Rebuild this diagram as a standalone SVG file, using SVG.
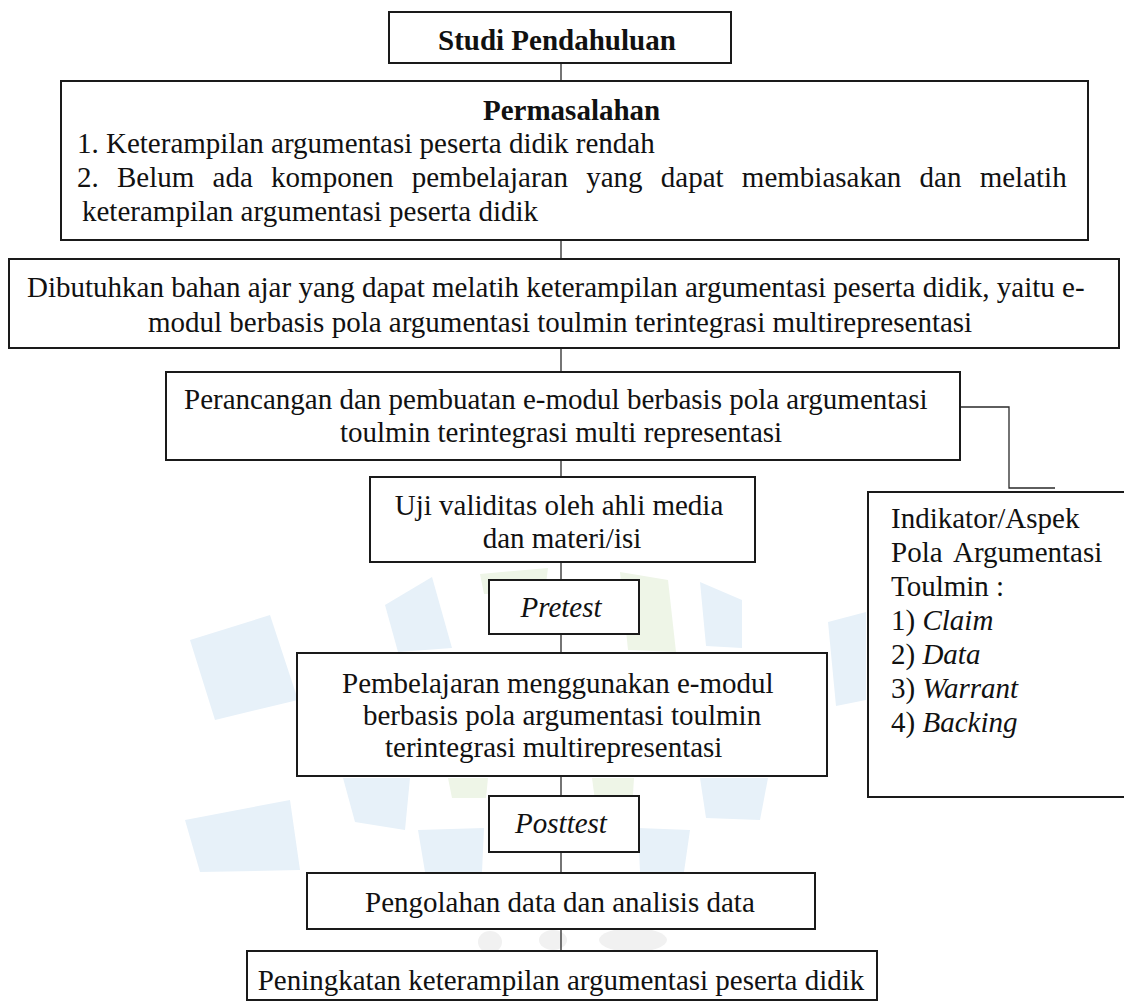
<svg xmlns="http://www.w3.org/2000/svg" width="1124" height="1003" viewBox="0 0 1124 1003">
<style>
.box{fill:#ffffff;stroke:#1a1a1a;stroke-width:2}
.t{font-family:"Liberation Serif","Times New Roman",serif;font-size:29px;fill:#111111}
.b{font-weight:bold}
.i{font-style:italic}
.c{text-anchor:middle}
.conn{fill:none;stroke:#2a2a2a;stroke-width:1.3}
.wb{fill:#e7f1f9}
.wg{fill:#eef5e7}
.wy{fill:#f1f1f1}
</style>
<rect width="1124" height="1003" fill="#ffffff"/>
<g id="watermark">
<polygon class="wb" points="385,605 432,577 452,648 398,652"/>
<polygon class="wg" points="480,574 548,568 545,592 484,594"/>
<polygon class="wg" points="620,572 668,580 676,652 628,650"/>
<polygon class="wb" points="700,582 742,600 742,648 706,646"/>
<polygon class="wb" points="190,640 270,615 298,700 215,720"/>
<polygon class="wb" points="828,622 866,612 866,700 836,706"/>
<polygon class="wb" points="343,778 410,778 405,830 355,822"/>
<polygon class="wg" points="448,778 488,778 486,798 452,798"/>
<polygon class="wg" points="592,778 634,778 632,810 596,808"/>
<polygon class="wb" points="700,778 768,778 760,820 706,818"/>
<polygon class="wb" points="418,830 484,828 482,872 425,872"/>
<polygon class="wb" points="638,828 690,830 684,872 640,872"/>
<polygon class="wb" points="185,820 290,800 300,870 200,872"/>
<ellipse class="wy" cx="490" cy="942" rx="12" ry="11"/>
<ellipse class="wy" cx="553" cy="940" rx="14" ry="10"/>
<ellipse class="wy" cx="633" cy="940" rx="34" ry="12"/>
</g>
<g id="connectors">
<line class="conn" x1="561" y1="63" x2="561" y2="82"/>
<line class="conn" x1="561" y1="240" x2="561" y2="260"/>
<line class="conn" x1="561" y1="348" x2="561" y2="373"/>
<line class="conn" x1="561" y1="460" x2="561" y2="478"/>
<line class="conn" x1="561" y1="562" x2="561" y2="581"/>
<line class="conn" x1="561" y1="634" x2="561" y2="654"/>
<line class="conn" x1="561" y1="776" x2="561" y2="797"/>
<line class="conn" x1="561" y1="852" x2="561" y2="874"/>
<line class="conn" x1="561" y1="929" x2="561" y2="952"/>
<path class="conn" d="M961,407 H1009 V488 H1055"/>
</g>
<g id="studi">
<rect class="box" x="389" y="12" width="342" height="51"/>
<text class="t b" x="438" y="50">Studi Pendahuluan</text>
</g>
<g id="permasalahan">
<rect class="box" x="61" y="81" width="1027" height="159"/>
<text class="t b" x="483" y="120">Permasalahan</text>
<text class="t" x="77" y="153">1. Keterampilan argumentasi peserta didik rendah</text>
<text class="t" x="77" y="187" word-spacing="11">2. Belum ada komponen pembelajaran yang dapat membiasakan dan melatih</text>
<text class="t" x="82" y="221">keterampilan argumentasi peserta didik</text>
</g>
<g id="dibutuhkan">
<rect class="box" x="9" y="259" width="1110" height="89"/>
<text class="t" x="27" y="297">Dibutuhkan bahan ajar yang dapat melatih keterampilan argumentasi peserta didik, yaitu e-</text>
<text class="t" x="148" y="332">modul berbasis pola argumentasi toulmin terintegrasi multirepresentasi</text>
</g>
<g id="perancangan">
<rect class="box" x="166" y="372" width="794" height="88"/>
<text class="t" x="184" y="409">Perancangan dan pembuatan e-modul berbasis pola argumentasi</text>
<text class="t" x="340" y="442">toulmin terintegrasi multi representasi</text>
</g>
<g id="indikator">
<rect class="box" x="868" y="492" width="280" height="305"/>
<text class="t" x="891" y="528">Indikator/Aspek</text>
<text class="t" x="891" y="562">Pola<tspan x="953">Argumentasi</tspan></text>
<text class="t" x="891" y="596">Toulmin :</text>
<text class="t" x="891" y="630">1) <tspan class="i">Claim</tspan></text>
<text class="t" x="891" y="664">2) <tspan class="i">Data</tspan></text>
<text class="t" x="891" y="698">3) <tspan class="i">Warrant</tspan></text>
<text class="t" x="891" y="732">4) <tspan class="i">Backing</tspan></text>
</g>
<g id="uji">
<rect class="box" x="370" y="477" width="385" height="85"/>
<text class="t c" x="559" y="515">Uji validitas oleh ahli media</text>
<text class="t c" x="562" y="548">dan materi/isi</text>
</g>
<g id="pretest">
<rect class="box" x="489" y="580" width="150" height="54"/>
<text class="t i c" x="561" y="617">Pretest</text>
</g>
<g id="pembelajaran">
<rect class="box" x="297" y="653" width="530" height="123"/>
<text class="t" x="342" y="693">Pembelajaran menggunakan e-modul</text>
<text class="t" x="363" y="725">berbasis pola argumentasi toulmin</text>
<text class="t" x="385" y="757">terintegrasi multirepresentasi</text>
</g>
<g id="posttest">
<rect class="box" x="489" y="796" width="150" height="56"/>
<text class="t i c" x="561" y="833">Posttest</text>
</g>
<g id="pengolahan">
<rect class="box" x="307" y="873" width="508" height="56"/>
<text class="t" x="365" y="912">Pengolahan data dan analisis data</text>
</g>
<g id="peningkatan">
<rect class="box" x="247" y="951" width="630" height="49"/>
<text class="t c" x="561" y="990">Peningkatan keterampilan argumentasi peserta didik</text>
</g>
</svg>
